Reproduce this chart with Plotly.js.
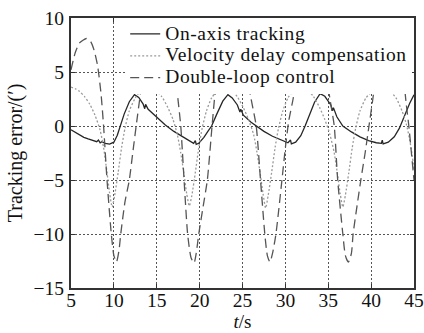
<!DOCTYPE html>
<html>
<head>
<meta charset="utf-8">
<script src="https://cdn.plot.ly/plotly-3.0.1.min.js"></script>
<style>
  html, body { margin: 0; padding: 0; background: #fff; }
  #chart { width: 424px; height: 333px; }
  .legendtext { font-size: 19.5px !important; letter-spacing: 0.6px; }
</style>
</head>
<body>
<div id="chart"></div>
<script>
// ---- Data ----
const seriesNames = ["On-axis tracking", "Velocity delay compensation", "Double-loop control"];

const onAxisT = [5, 5.5, 6, 6.5, 7, 7.5, 8, 8.2, 8.4, 8.6, 9, 9.5, 10, 10.4, 10.7, 11.2, 11.8, 12.4, 12.9, 13.4, 13.6, 13.7, 14, 15, 16, 17, 18, 18.8, 19.3, 19.5, 19.6, 19.9, 20.5, 21, 21.4, 22, 22.7, 23.3, 23.8, 24.4, 24.7, 24.8, 25.1, 26, 26.6, 27.5, 28.5, 29.5, 30.3, 30.6, 30.7, 31.2, 31.8, 32.3, 32.8, 33.4, 34.05, 34.6, 35.3, 35.5, 35.6, 36, 36.7, 37.7, 38.7, 39.7, 40.6, 41.2, 41.3, 41.4, 42, 42.7, 43.3, 43.9, 44.5, 45];
const onAxisErr = [-0.35, -0.6, -0.85, -1.05, -1.2, -1.35, -1.45, -1.3, -1.55, -1.45, -1.6, -1.68, -1.5, -0.85, -0.05, 1.1, 2.25, 2.9, 2.65, 2.05, 1.6, 2.0, 1.55, 0.8, 0.1, -0.5, -1.0, -1.4, -1.6, -1.35, -1.7, -1.6, -1.05, -0.45, 0.0, 1.1, 2.3, 2.9, 2.6, 1.95, 1.3, 1.55, 1.0, 0.35, 0.0, -0.5, -0.95, -1.3, -1.55, -1.3, -1.65, -1.5, -0.9, 0.0, 1.0, 2.2, 3.0, 2.75, 1.95, 1.4, 1.7, 0.85, 0.0, -0.55, -1.0, -1.35, -1.55, -1.6, -1.3, -1.65, -1.5, -1.0, -0.2, 1.0, 2.1, 2.9];

const velocityT = [5.0, 5.5, 6.0, 6.6, 7.2, 7.8, 8.4, 8.8, 9.2, 9.5, 9.8, 10.1, 10.5, 10.9, 11.3, 11.8, 12.5, 13.2, 14.2, 14.9, 15.6, 16.3, 16.9, 17.4, 17.8, 18.2, 18.5, 18.8, 19.1, 19.5, 19.9, 20.3, 20.8, 21.4, 22.1, 23.0, 23.7, 24.4, 25.1, 25.7, 26.3, 26.7, 27.1, 27.4, 27.7, 28.0, 28.4, 28.8, 29.2, 29.7, 30.3, 31.0, 31.9, 32.6, 33.3, 34.0, 34.6, 35.2, 35.7, 36.1, 36.4, 36.7, 37.0, 37.4, 37.8, 38.2, 38.7, 39.4, 40.3, 41.3, 42.1, 42.9, 43.6, 44.1, 44.5, 44.8, 45.0];
const velocityErr = [3.6, 3.45, 3.2, 2.7, 2.0, 1.0, -0.4, -2.0, -4.3, -6.2, -7.5, -6.4, -4.3, -2.0, -0.2, 1.4, 2.6, 3.3, 3.5, 3.3, 2.7, 1.7, 0.6, -0.8, -2.5, -4.6, -6.3, -7.4, -6.4, -4.3, -2.0, -0.2, 1.4, 2.6, 3.3, 3.5, 3.3, 2.7, 1.7, 0.6, -0.8, -2.5, -4.6, -6.3, -7.6, -6.4, -4.3, -2.0, -0.2, 1.4, 2.6, 3.3, 3.5, 3.3, 2.7, 1.7, 0.6, -0.8, -2.5, -4.6, -6.3, -7.5, -6.4, -4.3, -2.0, -0.2, 1.4, 2.6, 3.3, 3.5, 3.3, 2.6, 1.4, 0.2, -1.3, -2.8, -4.0];

const doubleLoopT = [5.0, 5.5, 6.0, 6.8, 7.3, 7.7, 8.1, 8.5, 8.8, 9.2, 9.7, 10.0, 10.3, 10.6, 10.8, 11.3, 11.8, 12.2, 12.6, 13.1, 13.5, 14.3, 15.3, 16.3, 17.0, 17.4, 17.8, 18.0, 18.3, 18.6, 19.0, 19.35, 19.6, 19.9, 20.4, 20.9, 21.45, 21.8, 22.2, 23.1, 24.1, 25.0, 25.4, 26.0, 26.6, 27.1, 27.6, 27.9, 28.2, 28.5, 28.9, 29.6, 30.0, 30.4, 30.9, 31.4, 32.3, 33.2, 34.2, 34.8, 35.3, 35.7, 36.1, 36.7, 37.0, 37.35, 37.7, 37.9, 38.8, 39.3, 39.75, 40.2, 40.6, 41.5, 42.4, 43.2, 43.7, 44.1, 44.4, 44.7, 45.0];
const doubleLoopErr = [5.2, 6.8, 7.7, 8.1, 7.8, 7.0, 5.6, 3.0, 0.0, -5.0, -10.0, -12.0, -12.6, -11.5, -10.0, -7.0, -5.0, -2.5, 0.0, 3.0, 5.0, 7.2, 8.1, 7.5, 5.5, 3.0, 0.0, -2.5, -6.5, -10.0, -12.2, -12.7, -11.8, -10.0, -7.5, -5.0, 0.0, 3.0, 5.0, 7.5, 8.1, 6.5, 5.0, 2.5, 0.0, -5.0, -10.0, -12.0, -12.6, -11.8, -10.0, -5.0, -2.0, 0.5, 2.5, 5.0, 7.5, 8.1, 7.0, 4.5, 2.0, 0.0, -5.0, -10.0, -12.0, -12.6, -11.8, -10.0, -5.0, -2.5, 0.0, 2.5, 5.0, 7.5, 8.1, 7.0, 5.0, 2.0, 0.0, -2.5, -5.0];

const xTicks = [5, 10, 15, 20, 25, 30, 35, 40, 45];
const yTicks = [-15, -10, -5, 0, 5, 10];

// ---- Chart ----
const serif = "'Liberation Serif', 'Times New Roman', serif";

const traces = [
  { x: onAxisT, y: onAxisErr, name: seriesNames[0], type: 'scatter', mode: 'lines',
    line: { color: '#262626', width: 1.3 } },
  { x: velocityT, y: velocityErr, name: seriesNames[1], type: 'scatter', mode: 'lines',
    line: { color: '#9a9a9a', width: 1.3, dash: '2px,2px', shape: 'spline', smoothing: 0.6 } },
  { x: doubleLoopT, y: doubleLoopErr, name: seriesNames[2], type: 'scatter', mode: 'lines',
    line: { color: '#555555', width: 1.3, dash: '9px,5px', shape: 'spline', smoothing: 0.6 } }
];

const axisCommon = {
  showline: true, linecolor: '#333', linewidth: 2, mirror: 'ticks',
  ticks: 'inside', ticklen: 4, tickwidth: 1, tickcolor: '#333',
  showgrid: true, gridcolor: '#555', gridwidth: 1, griddash: '2px,2px',
  zeroline: false, ticklabeloverflow: 'allow',
  tickfont: { family: serif, size: 19.5, color: '#111' }
};

const layout = {
  width: 424, height: 333,
  margin: { l: 71, r: 10, t: 18, b: 45 },
  paper_bgcolor: '#fff', plot_bgcolor: '#fff',
  showlegend: true,
  legend: {
    x: 0.158, y: 1, xanchor: 'left', yanchor: 'top',
    bgcolor: '#fff', borderwidth: 0,
    font: { family: serif, size: 14.5, color: '#111' },
    tracegroupgap: 0
  },
  xaxis: Object.assign({}, axisCommon, {
    range: [5, 45], tickvals: xTicks, ticktext: xTicks.map(String),
    ticklabelstandoff: -6,
    title: { text: '<i>t</i>/s', font: { family: serif, size: 19, color: '#111' }, standoff: 4 }
  }),
  yaxis: Object.assign({}, axisCommon, {
    range: [-15, 10], tickvals: yTicks,
    ticktext: yTicks.map(v => v < 0 ? '\u2212' + Math.abs(v) : String(v)),
    ticklabelstandoff: 1,
    title: { text: 'Tracking error/(\u2032)', font: { family: serif, size: 20, color: '#111' }, standoff: 6 }
  })
};

Plotly.newPlot('chart', traces, layout, { displayModeBar: false, staticPlot: true });
</script>
</body>
</html>
